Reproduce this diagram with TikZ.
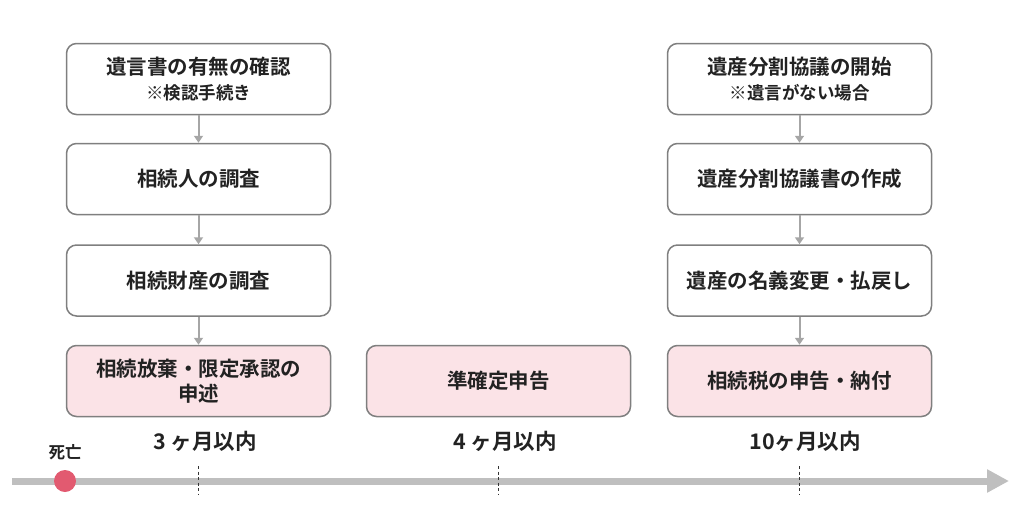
\documentclass[tikz,border=0pt]{standalone}
\usepackage{fontspec}
\setmainfont{Noto Sans CJK JP}[BoldFont={Noto Sans CJK JP Bold}]
\usetikzlibrary{arrows.meta}
\definecolor{boxline}{HTML}{7F7F7F}
\definecolor{pinkfill}{HTML}{FBE3E7}
\definecolor{arrowgray}{HTML}{A6A6A6}
\definecolor{linegray}{HTML}{BFBFBF}
\definecolor{dotred}{HTML}{E25A70}
\definecolor{txt}{HTML}{222222}
\tikzset{
  stepbox/.style={draw=boxline, line width=1.5pt, rounded corners=10pt, fill=white,
    minimum width=264pt, minimum height=71pt, align=center, text=txt,
    font=\fontsize{20.5}{25}\selectfont\bfseries, inner sep=2pt},
  pinkbox/.style={stepbox, fill=pinkfill},
  flow/.style={draw=arrowgray, line width=2pt, -{Triangle[length=7pt,width=9pt]}},
  period/.style={text=txt, font=\fontsize{21.5}{24}\selectfont\bfseries},
  tick/.style={draw=black!80, line width=0.8pt, dash pattern=on 3pt off 2.5pt},
}
\newcommand{\subnote}[1]{{\fontsize{17.5}{21}\selectfont #1}}
\begin{document}
\begin{tikzpicture}[x=1pt,y=-1pt]
\useasboundingbox (0,0) rectangle (1024,506);
% left column
\node[stepbox] (a1) at (198.5,79) {遺言書の有無の確認\\[0pt]\subnote{※検認手続き}};
\node[stepbox] (a2) at (198.5,179) {相続人の調査};
\node[stepbox] (a3) at (198.5,280.5) {相続財産の調査};
\node[pinkbox] (a4) at (198.5,381) {相続放棄・限定承認の\\[0pt]申述};
% middle
\node[pinkbox] (b1) at (498.5,381) {準確定申告};
% right column
\node[stepbox] (c1) at (799.5,79) {遺産分割協議の開始\\[0pt]\subnote{※遺言がない場合}};
\node[stepbox] (c2) at (799.5,179) {遺産分割協議書の作成};
\node[stepbox] (c3) at (799.5,280.5) {遺産の名義変更・払戻し};
\node[pinkbox] (c4) at (799.5,381) {相続税の申告・納付};
% flow arrows
\draw[flow] (a1) -- (a2);
\draw[flow] (a2) -- (a3);
\draw[flow] (a3) -- (a4);
\draw[flow] (c1) -- (c2);
\draw[flow] (c2) -- (c3);
\draw[flow] (c3) -- (c4);
% period labels
\node[period] (p1) at (205,441) {3 ヶ月以内};
\node[period] (p2) at (505,441) {4 ヶ月以内};
\node[period] (p3) at (805,441) {10ヶ月以内};
% timeline
\coordinate (tstart) at (12,481);
\coordinate (tend) at (1009,481);
\draw[draw=linegray, line width=7pt, -{Triangle[length=22pt,width=22pt]}] (tstart) -- (tend);
\coordinate (t1a) at (198.5,466); \coordinate (t1b) at (198.5,494);
\coordinate (t2a) at (498.5,466); \coordinate (t2b) at (498.5,494);
\coordinate (t3a) at (799.5,466); \coordinate (t3b) at (799.5,494);
\draw[tick] (t1a) -- (t1b);
\draw[tick] (t2a) -- (t2b);
\draw[tick] (t3a) -- (t3b);
\node[circle, fill=dotred, minimum size=22pt, inner sep=0pt] (death) at (65,481) {};
\node[text=txt, font=\fontsize{16.5}{19}\selectfont\bfseries] (deathlbl) at (65,452) {死亡};
\end{tikzpicture}
\end{document}
